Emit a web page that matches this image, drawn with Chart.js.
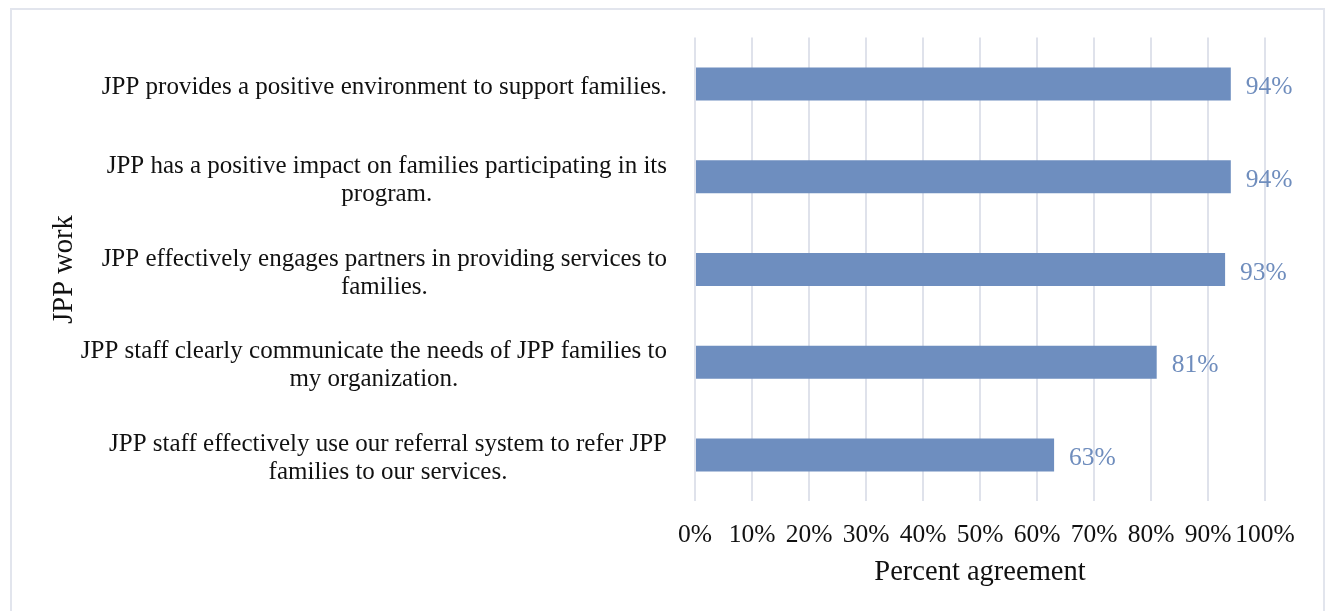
<!DOCTYPE html>
<html>
<head>
<meta charset="utf-8">
<script src="https://cdn.jsdelivr.net/npm/chart.js@4/dist/chart.umd.min.js"></script>
<style>
  html, body { margin: 0; padding: 0; background: #ffffff; overflow: hidden; }
  #frame { position: absolute; left: 10px; top: 8px; width: 1315px; height: 700px;
           border: 2px solid #e2e5ed; box-sizing: border-box; }
  #c { position: absolute; left: 0; top: 0; }
</style>
</head>
<body>
<div id="frame"></div>
<canvas id="c" width="1327" height="611"></canvas>
<script>
// Survey statements, each split into the lines it wraps to
const categories = [
  ["JPP provides a positive environment to support families."],
  ["JPP has a positive impact on families participating in its", "program."],
  ["JPP effectively engages partners in providing services to", "families."],
  ["JPP staff clearly communicate the needs of JPP families to", "my organization."],
  ["JPP staff effectively use our referral system to refer JPP", "families to our services."]
];
// Percent of partners agreeing with each statement
const agreement = [94, 94, 93, 81, 63];
const xTickValues = [0, 10, 20, 30, 40, 50, 60, 70, 80, 90, 100];

const FONT = "'Liberation Serif', 'Times New Roman', serif";
const BAR_COLOR = '#6e8ebf';
const LABEL_COLOR = '#6f8dbd';
const TEXT_COLOR = '#111111';

// Category labels: block right-aligned against the plot, lines centred within the block
const categoryLabels = {
  id: 'categoryLabels',
  afterDraw(chart) {
    const ctx = chart.ctx;
    const yScale = chart.scales.y;
    const right = chart.chartArea.left - 28;
    const size = 25, lh = 28;
    ctx.save();
    ctx.font = size + 'px ' + FONT;
    ctx.fillStyle = TEXT_COLOR;
    ctx.textAlign = 'center';
    ctx.textBaseline = 'middle';
    categories.forEach((lines, i) => {
      const yc = yScale.getPixelForTick(i) + 3.5;
      const w = Math.max(...lines.map(l => ctx.measureText(l).width));
      const cx = right - w / 2;
      const y0 = yc - (lines.length - 1) * lh / 2;
      lines.forEach((l, k) => ctx.fillText(l, cx, y0 + k * lh));
    });
    ctx.restore();
  }
};

// Value labels just past the end of each bar
const valueLabels = {
  id: 'valueLabels',
  afterDatasetsDraw(chart) {
    const ctx = chart.ctx;
    const meta = chart.getDatasetMeta(0);
    ctx.save();
    ctx.font = '25.5px ' + FONT;
    ctx.fillStyle = LABEL_COLOR;
    ctx.textAlign = 'left';
    ctx.textBaseline = 'middle';
    meta.data.forEach((bar, i) => {
      ctx.fillText(agreement[i] + '%', bar.x + 15, bar.y + 3.5);
    });
    ctx.restore();
  }
};

new Chart(document.getElementById('c'), {
  type: 'bar',
  data: {
    labels: categories.map(l => l.join(' ')),
    datasets: [{
      data: agreement,
      backgroundColor: BAR_COLOR,
      borderWidth: 0,
      categoryPercentage: 1,
      barPercentage: 0.356
    }]
  },
  options: {
    indexAxis: 'y',
    responsive: false,
    animation: false,
    layout: { padding: { top: 37.6, right: 62, bottom: 0, left: 0 } },
    plugins: {
      legend: { display: false },
      tooltip: { enabled: false }
    },
    scales: {
      x: {
        min: 0,
        max: 100,
        afterBuildTicks(scale) { scale.ticks = xTickValues.map(v => ({ value: v })); },
        afterFit(scale) { scale.height = 109.6; },
        border: { display: false },
        grid: { color: '#dfe2eb', lineWidth: 2, drawTicks: false },
        ticks: {
          padding: 18.6,
          color: TEXT_COLOR,
          font: { family: FONT, size: 25.5 },
          maxRotation: 0,
          autoSkip: false,
          callback: v => v + '%'
        },
        title: {
          display: true,
          text: 'Percent agreement',
          color: TEXT_COLOR,
          font: { family: FONT, size: 28.5 },
          padding: { top: 0, bottom: 21 }
        }
      },
      y: {
        afterFit(scale) { scale.width = 695; },
        border: { display: false },
        grid: { display: false, drawTicks: false },
        ticks: { display: false },
        title: {
          display: true,
          text: 'JPP work',
          color: TEXT_COLOR,
          font: { family: FONT, size: 28.5 },
          padding: { top: 47, bottom: 0 }
        }
      }
    }
  },
  plugins: [categoryLabels, valueLabels]
});
</script>
</body>
</html>
